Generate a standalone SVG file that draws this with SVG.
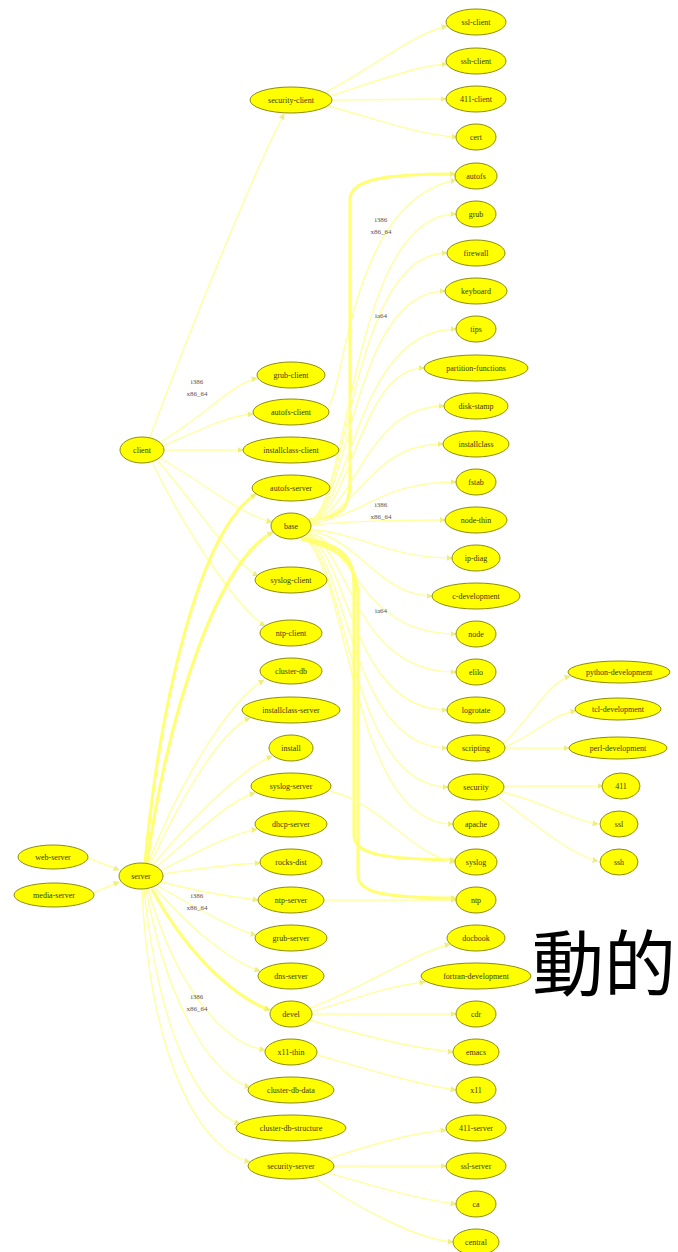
<svg xmlns="http://www.w3.org/2000/svg" width="678" height="1252" viewBox="0 0 678 1252">
<style>
.n ellipse{fill:#ffff00;stroke:#8c8c10;stroke-width:1}
.n text{font-family:"Liberation Serif",serif;font-size:8px;fill:#3a3a00;text-anchor:middle;dominant-baseline:central}
.e path{fill:none;stroke:#ffffa0;stroke-width:1.4;marker-end:url(#ah)}
.e path.t{stroke:#ffff70;stroke-width:3}
.lb{font-family:"Liberation Serif",serif;font-size:7px;fill:#555;text-anchor:middle}
</style>
<defs>
<marker id="ah" viewBox="0 0 10 10" refX="9" refY="5" markerWidth="6" markerHeight="6" markerUnits="userSpaceOnUse" orient="auto">
<path d="M0,0 L10,5 L0,10 z" fill="#eded80"/>
</marker>
</defs>
<rect width="678" height="1252" fill="#fff"/>
<g id="connectors" class="e">
<path d="M150,437 C190,330 250,180 284,114"/>
<path d="M160,442 C200,420 230,385 257,378"/>
<path d="M163,446 C200,430 230,415 253,414"/>
<path d="M164,450 L243,450"/>
<path d="M160,458 C200,480 240,515 272,522"/>
<path d="M158,461 C200,510 230,560 258,576"/>
<path d="M152,462 C190,540 240,610 265,626"/>
<path d="M88,858 L119,870"/>
<path d="M93,893 L119,882"/>
<path class="t" d="M145,863 C160,700 200,530 256,494"/>
<path class="t" d="M147,863 C170,700 220,560 273,532"/>
<path d="M148,864 C180,780 230,700 264,680"/>
<path d="M150,865 C180,800 220,730 250,718"/>
<path d="M152,866 C190,820 240,770 272,756"/>
<path d="M155,868 C200,830 230,800 255,793"/>
<path d="M160,871 C200,850 230,835 257,829"/>
<path d="M163,874 C200,868 240,864 260,863"/>
<path d="M162,882 C200,892 240,898 258,900"/>
<path d="M158,886 C200,910 235,930 256,935"/>
<path d="M155,888 C200,940 240,965 260,971"/>
<path class="t" d="M152,889 C190,960 240,1000 270,1010"/>
<path d="M148,889 C180,1000 230,1045 265,1050"/>
<path d="M146,889 C170,1020 220,1080 250,1087"/>
<path d="M144,889 C160,1040 200,1110 240,1124"/>
<path d="M142,889 C150,1060 200,1150 250,1162"/>
<path d="M326,92 C370,70 410,35 447,26"/>
<path d="M330,96 C380,80 420,65 447,64"/>
<path d="M332,100 L446,99"/>
<path d="M328,106 C380,120 420,135 457,137"/>
<path d="M328,407 C345,390 350,200 456,180"/>
<path class="t" d="M308,520 C345,518 350,505 350,480 L350,200 C350,180 380,174 455,174"/>
<path d="M309,521 C350,510 350,214 456,214"/>
<path d="M309,521 C350,510 350,253 447,253"/>
<path d="M309,522 C350,510 352,291 445,291"/>
<path d="M309,522 C352,510 355,329 456,329"/>
<path d="M310,522 C352,512 360,368 424,368"/>
<path d="M310,523 C355,512 365,406 444,406"/>
<path d="M310,523 C360,512 370,444 443,444"/>
<path d="M310,524 C365,515 380,482 456,482"/>
<path d="M311,525 C370,520 400,520 445,520"/>
<path d="M310,529 C365,535 390,558 452,558"/>
<path d="M309,530 C360,540 380,596 432,596"/>
<path d="M308,532 C355,545 360,634 456,634"/>
<path d="M307,533 C352,550 352,672 456,672"/>
<path d="M306,534 C350,555 350,710 447,710"/>
<path d="M305,535 C348,560 350,748 447,748"/>
<path d="M304,536 C348,565 350,787 448,787"/>
<path d="M303,537 C350,570 350,824 453,824"/>
<path class="t" d="M302,538 C348,545 354,560 354,590 L354,835 C354,855 385,859 455,860"/>
<path class="t" d="M301,539 C350,550 358,570 358,600 L358,875 C358,893 385,898 456,898"/>
<path d="M325,790 C380,800 410,855 455,862"/>
<path d="M503,744 C530,720 545,685 570,676"/>
<path d="M505,747 C535,735 550,715 576,711"/>
<path d="M505,748 L569,748"/>
<path d="M504,786 L603,786"/>
<path d="M502,792 C540,800 570,820 598,824"/>
<path d="M498,797 C530,820 570,855 598,861"/>
<path d="M324,900 L456,900"/>
<path d="M310,1008 C360,990 410,955 450,944"/>
<path d="M312,1012 C350,1000 390,985 425,982"/>
<path d="M312,1014 L456,1014"/>
<path d="M310,1020 C360,1035 410,1048 453,1052"/>
<path d="M317,1055 C370,1070 420,1085 456,1090"/>
<path d="M325,1160 C370,1145 410,1133 446,1130"/>
<path d="M334,1166 L446,1166"/>
<path d="M325,1172 C370,1185 420,1200 456,1204"/>
<path d="M315,1178 C360,1210 420,1240 453,1242"/>
</g>
<g id="edge-labels">
<text class="lb" x="381" y="222">i386</text><text class="lb" x="381" y="234">x86_64</text>
<text class="lb" x="381" y="318">ia64</text>
<text class="lb" x="381" y="507">i386</text><text class="lb" x="381" y="519">x86_64</text>
<text class="lb" x="381" y="613">ia64</text>
<text class="lb" x="197" y="384">i386</text><text class="lb" x="197" y="396">x86_64</text>
<text class="lb" x="197" y="898">i386</text><text class="lb" x="197" y="910">x86_64</text>
<text class="lb" x="197" y="999">i386</text><text class="lb" x="197" y="1011">x86_64</text>
</g>
<g id="n-ssl-client" class="n"><ellipse cx="476" cy="22" rx="30" ry="13"/><text x="476" y="22">ssl-client</text></g>
<g id="n-ssh-client" class="n"><ellipse cx="476" cy="61" rx="30" ry="13"/><text x="476" y="61">ssh-client</text></g>
<g id="n-411-client" class="n"><ellipse cx="476" cy="99" rx="30" ry="13"/><text x="476" y="99">411-client</text></g>
<g id="n-cert" class="n"><ellipse cx="476" cy="137" rx="20" ry="13"/><text x="476" y="137">cert</text></g>
<g id="n-autofs" class="n"><ellipse cx="476" cy="176" rx="21" ry="13"/><text x="476" y="176">autofs</text></g>
<g id="n-grub" class="n"><ellipse cx="476" cy="214" rx="20" ry="13"/><text x="476" y="214">grub</text></g>
<g id="n-firewall" class="n"><ellipse cx="476" cy="253" rx="29" ry="13"/><text x="476" y="253">firewall</text></g>
<g id="n-keyboard" class="n"><ellipse cx="476" cy="291" rx="31" ry="13"/><text x="476" y="291">keyboard</text></g>
<g id="n-tips" class="n"><ellipse cx="476" cy="329" rx="20" ry="13"/><text x="476" y="329">tips</text></g>
<g id="n-partition-functions" class="n"><ellipse cx="476" cy="368" rx="52" ry="13"/><text x="476" y="368">partition-functions</text></g>
<g id="n-disk-stamp" class="n"><ellipse cx="476" cy="406" rx="32" ry="13"/><text x="476" y="406">disk-stamp</text></g>
<g id="n-installclass" class="n"><ellipse cx="476" cy="444" rx="33" ry="13"/><text x="476" y="444">installclass</text></g>
<g id="n-fstab" class="n"><ellipse cx="476" cy="482" rx="20" ry="13"/><text x="476" y="482">fstab</text></g>
<g id="n-node-thin" class="n"><ellipse cx="476" cy="520" rx="31" ry="13"/><text x="476" y="520">node-thin</text></g>
<g id="n-ip-diag" class="n"><ellipse cx="476" cy="558" rx="24" ry="13"/><text x="476" y="558">ip-diag</text></g>
<g id="n-c-development" class="n"><ellipse cx="476" cy="596" rx="44" ry="13"/><text x="476" y="596">c-development</text></g>
<g id="n-node" class="n"><ellipse cx="476" cy="634" rx="20" ry="13"/><text x="476" y="634">node</text></g>
<g id="n-elilo" class="n"><ellipse cx="476" cy="672" rx="20" ry="13"/><text x="476" y="672">elilo</text></g>
<g id="n-logrotate" class="n"><ellipse cx="476" cy="710" rx="29" ry="13"/><text x="476" y="710">logrotate</text></g>
<g id="n-scripting" class="n"><ellipse cx="476" cy="748" rx="29" ry="13"/><text x="476" y="748">scripting</text></g>
<g id="n-security" class="n"><ellipse cx="476" cy="787" rx="28" ry="13"/><text x="476" y="787">security</text></g>
<g id="n-apache" class="n"><ellipse cx="476" cy="824" rx="23" ry="13"/><text x="476" y="824">apache</text></g>
<g id="n-syslog" class="n"><ellipse cx="476" cy="862" rx="21" ry="13"/><text x="476" y="862">syslog</text></g>
<g id="n-ntp" class="n"><ellipse cx="476" cy="900" rx="20" ry="13"/><text x="476" y="900">ntp</text></g>
<g id="n-docbook" class="n"><ellipse cx="476" cy="938" rx="29" ry="13"/><text x="476" y="938">docbook</text></g>
<g id="n-fortran-development" class="n"><ellipse cx="476" cy="976" rx="55" ry="13"/><text x="476" y="976">fortran-development</text></g>
<g id="n-cdr" class="n"><ellipse cx="476" cy="1014" rx="20" ry="13"/><text x="476" y="1014">cdr</text></g>
<g id="n-emacs" class="n"><ellipse cx="476" cy="1052" rx="23" ry="13"/><text x="476" y="1052">emacs</text></g>
<g id="n-x11" class="n"><ellipse cx="476" cy="1090" rx="20" ry="13"/><text x="476" y="1090">x11</text></g>
<g id="n-411-server" class="n"><ellipse cx="476" cy="1128" rx="30" ry="13"/><text x="476" y="1128">411-server</text></g>
<g id="n-ssl-server" class="n"><ellipse cx="476" cy="1166" rx="30" ry="13"/><text x="476" y="1166">ssl-server</text></g>
<g id="n-ca" class="n"><ellipse cx="476" cy="1204" rx="20" ry="13"/><text x="476" y="1204">ca</text></g>
<g id="n-central" class="n"><ellipse cx="476" cy="1242" rx="23" ry="13"/><text x="476" y="1242">central</text></g>
<g id="n-security-client" class="n"><ellipse cx="291" cy="100" rx="41" ry="13"/><text x="291" y="100">security-client</text></g>
<g id="n-grub-client" class="n"><ellipse cx="291" cy="375" rx="34" ry="13"/><text x="291" y="375">grub-client</text></g>
<g id="n-autofs-client" class="n"><ellipse cx="291" cy="412" rx="38" ry="13"/><text x="291" y="412">autofs-client</text></g>
<g id="n-installclass-client" class="n"><ellipse cx="291" cy="450" rx="48" ry="13"/><text x="291" y="450">installclass-client</text></g>
<g id="n-autofs-server" class="n"><ellipse cx="291" cy="488" rx="39" ry="13"/><text x="291" y="488">autofs-server</text></g>
<g id="n-base" class="n"><ellipse cx="291" cy="526" rx="20" ry="13"/><text x="291" y="526">base</text></g>
<g id="n-syslog-client" class="n"><ellipse cx="291" cy="580" rx="36" ry="13"/><text x="291" y="580">syslog-client</text></g>
<g id="n-ntp-client" class="n"><ellipse cx="291" cy="633" rx="31" ry="13"/><text x="291" y="633">ntp-client</text></g>
<g id="n-cluster-db" class="n"><ellipse cx="291" cy="671" rx="31" ry="13"/><text x="291" y="671">cluster-db</text></g>
<g id="n-installclass-server" class="n"><ellipse cx="291" cy="710" rx="49" ry="13"/><text x="291" y="710">installclass-server</text></g>
<g id="n-install" class="n"><ellipse cx="291" cy="748" rx="22" ry="13"/><text x="291" y="748">install</text></g>
<g id="n-syslog-server" class="n"><ellipse cx="291" cy="786" rx="40" ry="13"/><text x="291" y="786">syslog-server</text></g>
<g id="n-dhcp-server" class="n"><ellipse cx="291" cy="824" rx="36" ry="13"/><text x="291" y="824">dhcp-server</text></g>
<g id="n-rocks-dist" class="n"><ellipse cx="291" cy="862" rx="31" ry="13"/><text x="291" y="862">rocks-dist</text></g>
<g id="n-ntp-server" class="n"><ellipse cx="291" cy="900" rx="33" ry="13"/><text x="291" y="900">ntp-server</text></g>
<g id="n-grub-server" class="n"><ellipse cx="291" cy="938" rx="36" ry="13"/><text x="291" y="938">grub-server</text></g>
<g id="n-dns-server" class="n"><ellipse cx="291" cy="976" rx="33" ry="13"/><text x="291" y="976">dns-server</text></g>
<g id="n-devel" class="n"><ellipse cx="291" cy="1014" rx="21" ry="13"/><text x="291" y="1014">devel</text></g>
<g id="n-x11-thin" class="n"><ellipse cx="291" cy="1052" rx="26" ry="13"/><text x="291" y="1052">x11-thin</text></g>
<g id="n-cluster-db-data" class="n"><ellipse cx="291" cy="1090" rx="43" ry="13"/><text x="291" y="1090">cluster-db-data</text></g>
<g id="n-cluster-db-structure" class="n"><ellipse cx="291" cy="1128" rx="55" ry="13"/><text x="291" y="1128">cluster-db-structure</text></g>
<g id="n-security-server" class="n"><ellipse cx="291" cy="1166" rx="43" ry="13"/><text x="291" y="1166">security-server</text></g>
<g id="n-client" class="n"><ellipse cx="142" cy="450" rx="22" ry="13"/><text x="142" y="450">client</text></g>
<g id="n-server" class="n"><ellipse cx="141" cy="876" rx="22" ry="13"/><text x="141" y="876">server</text></g>
<g id="n-web-server" class="n"><ellipse cx="53" cy="857" rx="35" ry="12"/><text x="53" y="857">web-server</text></g>
<g id="n-media-server" class="n"><ellipse cx="54" cy="895" rx="40" ry="12"/><text x="54" y="895">media-server</text></g>
<g id="n-python-development" class="n"><ellipse cx="619" cy="672" rx="51" ry="11"/><text x="619" y="672">python-development</text></g>
<g id="n-tcl-development" class="n"><ellipse cx="618" cy="709" rx="43" ry="11"/><text x="618" y="709">tcl-development</text></g>
<g id="n-perl-development" class="n"><ellipse cx="618" cy="748" rx="49" ry="11"/><text x="618" y="748">perl-development</text></g>
<g id="n-411" class="n"><ellipse cx="621" cy="786" rx="19" ry="13"/><text x="621" y="786">411</text></g>
<g id="n-ssl" class="n"><ellipse cx="619" cy="824" rx="19" ry="13"/><text x="619" y="824">ssl</text></g>
<g id="n-ssh" class="n"><ellipse cx="619" cy="862" rx="19" ry="13"/><text x="619" y="862">ssh</text></g>
<text x="532" y="990" font-family="'Noto Sans CJK TC','Noto Sans CJK SC',sans-serif" font-size="72" fill="#000">動的</text>
</svg>
